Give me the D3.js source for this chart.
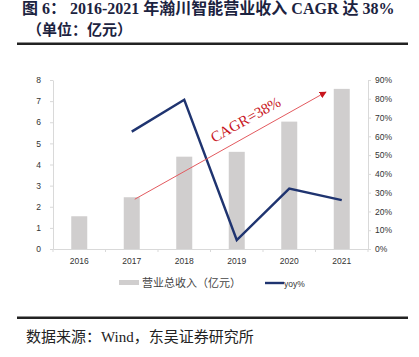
<!DOCTYPE html>
<html><head><meta charset="utf-8">
<script src="https://cdn.jsdelivr.net/npm/d3@7"></script>
<style>body{margin:0;background:#fff}svg{display:block}</style>
</head><body>
<script>
const years = ["2016","2017","2018","2019","2020","2021"];
const revenue = [1.55, 2.45, 4.37, 4.6, 6.03, 7.58];
const yoyYears = ["2017","2018","2019","2020","2021"];
const yoy = [0.625, 0.795, 0.048, 0.322, 0.26];
const leftTicks = [0,1,2,3,4,5,6,7,8];
const rightTicks = [0,0.1,0.2,0.3,0.4,0.5,0.6,0.7,0.8,0.9];

const W = 419, H = 357;
const svg = d3.select("body").append("svg").attr("width", W).attr("height", H);
const serif = "'Liberation Serif','Noto Sans CJK SC',serif";
const sans = "'Liberation Sans',Arial,sans-serif";

// Title
const titleColor = "#1c2340";
svg.append("text").attr("x", 22).attr("y", 14).attr("font-family", serif)
  .attr("font-weight", "bold").attr("font-size", 16).attr("fill", titleColor)
  .text("图 6： 2016-2021 年瀚川智能营业收入 CAGR 达 38%");
svg.append("text").attr("x", 27).attr("y", 35).attr("font-family", serif)
  .attr("font-weight", "bold").attr("font-size", 15).attr("fill", titleColor)
  .text("（单位：亿元）");
svg.append("rect").attr("x", 17).attr("y", 42.5).attr("width", 391).attr("height", 2.5).attr("fill", "#222");

const x = d3.scaleBand().domain(years).range([53, 368]);
const yL = d3.scaleLinear().domain([0, 8]).range([249, 80]);
const yR = d3.scaleLinear().domain([0, 0.9]).range([249, 80]);

const axisColor = "#d9d9d9";
function styleAxis(g){
  g.select(".domain").attr("stroke", axisColor);
  g.selectAll(".tick line").attr("stroke", axisColor);
  g.selectAll(".tick text").attr("fill", "#333").attr("font-family", sans).attr("font-size", 8.5);
}
svg.append("g").attr("transform", "translate(53,0)")
  .call(d3.axisLeft(yL).tickValues(leftTicks).tickSize(3).tickSizeOuter(0).tickPadding(9).tickFormat(d3.format("d")))
  .call(styleAxis);
svg.append("g").attr("transform", "translate(368,0)")
  .call(d3.axisRight(yR).tickValues(rightTicks).tickSize(3).tickSizeOuter(0).tickPadding(4).tickFormat(d3.format(".0%")))
  .call(styleAxis);
svg.append("g").attr("transform", "translate(0,249)")
  .call(d3.axisBottom(x).tickSize(0).tickPadding(9))
  .call(styleAxis);
// boundary ticks on x axis
svg.append("g").selectAll("line").data(years.concat(["end"])).join("line")
  .attr("x1", (d,i) => 53 + i * x.step()).attr("x2", (d,i) => 53 + i * x.step())
  .attr("y1", 249).attr("y2", 252).attr("stroke", axisColor);

// Bars
const bw = 16;
svg.append("g").selectAll("rect").data(years).join("rect")
  .attr("x", d => x(d) + x.bandwidth()/2 - bw/2)
  .attr("width", bw)
  .attr("y", (d,i) => yL(revenue[i]))
  .attr("height", (d,i) => yL(0) - yL(revenue[i]))
  .attr("fill", "#d0cece");

// yoy line
const line = d3.line().x((d,i) => x(yoyYears[i]) + x.bandwidth()/2).y(d => yR(d));
svg.append("path").datum(yoy).attr("d", line).attr("fill", "none")
  .attr("stroke", "#1f3470").attr("stroke-width", 2.4).attr("stroke-linejoin", "miter");

// CAGR arrow
const ax1 = x("2017") + x.bandwidth()/2 + 3, ay1 = yL(revenue[1]) + 2;
const ax2 = 326, ay2 = 92;
svg.append("defs").append("marker").attr("id", "arr").attr("viewBox", "0 0 10 10")
  .attr("refX", 9).attr("refY", 5).attr("markerWidth", 7).attr("markerHeight", 7)
  .attr("markerUnits", "userSpaceOnUse").attr("orient", "auto")
  .append("path").attr("d", "M0,0L10,5L0,10z").attr("fill", "#c8161d");
svg.append("line").attr("x1", ax1).attr("y1", ay1).attr("x2", ax2).attr("y2", ay2)
  .attr("stroke", "#e35a5f").attr("stroke-width", 1).attr("marker-end", "url(#arr)");
const ang = Math.atan2(ay2 - ay1, ax2 - ax1) * 180 / Math.PI;
svg.append("text").attr("transform", `translate(248,124) rotate(${ang})`)
  .attr("text-anchor", "middle").attr("font-family", serif).attr("font-size", 15)
  .attr("fill", "#c8161d").text("CAGR=38%");

// Legend
svg.append("rect").attr("x", 119).attr("y", 280).attr("width", 20).attr("height", 5).attr("fill", "#d0cece");
svg.append("text").attr("x", 142).attr("y", 287).attr("font-family", serif).attr("font-size", 11)
  .attr("fill", "#444").text("营业总收入（亿元）");
svg.append("line").attr("x1", 265).attr("x2", 284).attr("y1", 283).attr("y2", 283)
  .attr("stroke", "#1f3470").attr("stroke-width", 2.4);
svg.append("text").attr("x", 284).attr("y", 286.5).attr("font-family", sans).attr("font-size", 8.5)
  .attr("fill", "#333").text("yoy%");

// Source
svg.append("rect").attr("x", 17).attr("y", 316.5).attr("width", 391).attr("height", 2.5).attr("fill", "#222");
svg.append("text").attr("x", 26).attr("y", 342).attr("font-family", serif).attr("font-size", 15)
  .attr("fill", "#222").text("数据来源：Wind，东吴证券研究所");
</script>
</body></html>
